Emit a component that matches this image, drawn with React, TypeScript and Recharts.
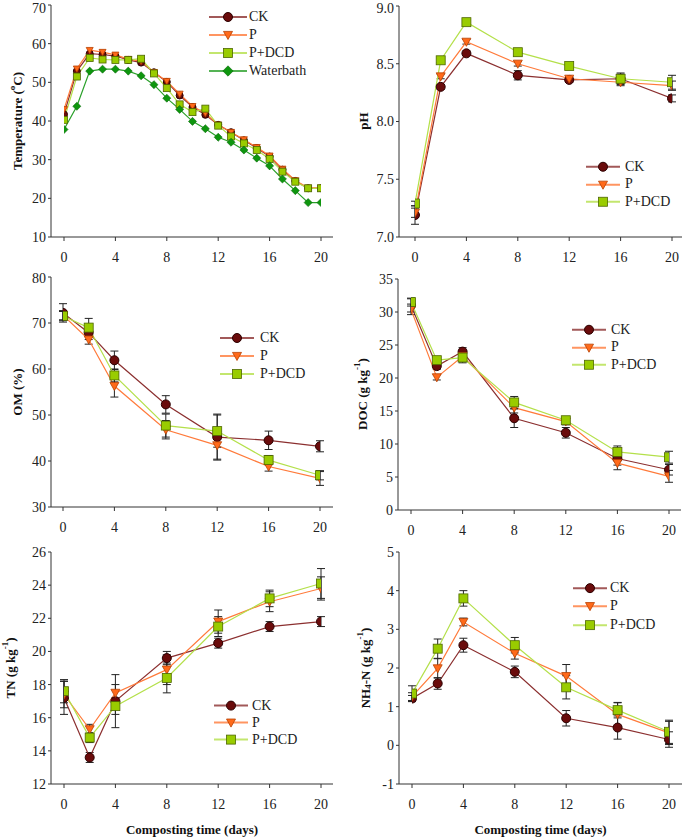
import React from 'react';
import { LineChart, Line, XAxis, YAxis, ErrorBar, Legend, Label } from 'recharts';

const FONT = '"Liberation Serif", "Times New Roman", serif';

// panel a: temperature, every day
const tempDays = [0, 1, 2, 3, 4, 5, 6, 7, 8, 9, 10, 11, 12, 13, 14, 15, 16, 17, 18, 19, 20];
const tempCK = [41.7, 52.9, 57.4, 57.2, 56.8, 55.8, 55.1, 52.6, 50.1, 46.6, 43.6, 41.6, 39.0, 37.1, 35.0, 33.0, 30.8, 27.4, 24.5, 22.6, 22.6];
const tempP = [43.0, 53.5, 58.3, 57.8, 57.1, 56.0, 55.5, 52.6, 50.3, 47.0, 43.8, 42.0, 39.0, 37.1, 35.2, 33.2, 31.0, 27.6, 24.6, 22.7, 22.7];
const tempPDCD = [40.3, 51.5, 56.3, 55.9, 55.8, 55.8, 56.1, 52.3, 48.5, 44.3, 42.3, 43.2, 38.8, 36.0, 34.2, 32.5, 30.2, 26.9, 24.3, 22.6, 22.6];
const tempWB = [37.8, 43.8, 52.9, 53.4, 53.4, 52.9, 51.7, 49.4, 45.9, 43.0, 39.9, 38.0, 35.8, 34.5, 32.5, 30.4, 28.4, 25.0, 22.0, 18.9, 18.9];

// panels b-f: sampling days
const days = [0, 2, 4, 8, 12, 16, 20];
const xTicks = [0, 4, 8, 12, 16, 20];

const phCK = [7.19, 8.30, 8.59, 8.40, 8.36, 8.37, 8.20];
const phP = [7.21, 8.39, 8.69, 8.50, 8.37, 8.34, 8.31];
const phPDCD = [7.29, 8.53, 8.86, 8.60, 8.48, 8.37, 8.34];
const phCKErr = [0.08, 0.02, 0.02, 0.04, 0.02, 0.05, 0.03];
const phPErr = [0.04, 0.02, 0.02, 0.02, 0.02, 0.03, 0.04];
const phPDCDErr = [0.02, 0.02, 0.02, 0.03, 0.02, 0.04, 0.06];

const omCK = [72.2, 67.9, 61.9, 52.3, 45.2, 44.5, 43.2];
const omP = [71.7, 66.4, 56.3, 46.8, 43.4, 38.8, 36.2];
const omPDCD = [71.5, 69.0, 58.6, 47.7, 46.5, 40.2, 36.9];
const omCKErr = [2.0, 1.5, 2.0, 1.9, 5.0, 2.0, 1.2];
const omPErr = [1.0, 1.0, 2.4, 2.0, 3.0, 1.0, 1.5];
const omPDCDErr = [1.0, 2.0, 1.4, 2.5, 3.5, 1.0, 1.0];

const docCK = [31.0, 21.8, 24.0, 13.9, 11.7, 7.8, 6.1];
const docP = [30.4, 20.1, 23.3, 15.5, 13.4, 7.1, 5.1];
const docPDCD = [31.5, 22.7, 23.1, 16.3, 13.6, 8.8, 8.0];
const docCKErr = [1.0, 0.5, 0.6, 1.4, 0.8, 1.0, 0.8];
const docPErr = [0.8, 0.4, 0.6, 0.8, 0.5, 1.0, 0.9];
const docPDCDErr = [0.6, 0.5, 0.8, 0.9, 0.4, 0.9, 0.9];

const tnCK = [17.2, 13.6, 17.0, 19.6, 20.5, 21.5, 21.8];
const tnP = [17.4, 15.3, 17.5, 18.9, 21.8, 23.0, 23.8];
const tnPDCD = [17.6, 14.8, 16.7, 18.4, 21.5, 23.2, 24.1];
const tnCKErr = [1.0, 0.3, 1.6, 0.4, 0.3, 0.3, 0.3];
const tnPErr = [0.8, 0.3, 0.5, 0.9, 0.7, 0.6, 0.7];
const tnPDCDErr = [0.7, 0.3, 0.5, 0.9, 0.6, 0.5, 0.9];

const nhCK = [1.21, 1.60, 2.59, 1.90, 0.70, 0.46, 0.15];
const nhP = [1.26, 1.99, 3.19, 2.38, 1.79, 0.80, 0.32];
const nhPDCD = [1.34, 2.50, 3.80, 2.59, 1.50, 0.91, 0.35];
const nhCKErr = [0.08, 0.15, 0.18, 0.15, 0.2, 0.3, 0.2];
const nhPErr = [0.1, 0.25, 0.1, 0.15, 0.3, 0.3, 0.3];
const nhPDCDErr = [0.2, 0.25, 0.2, 0.2, 0.3, 0.2, 0.3];

const SERIES: Record<string, { line: string; fill: string; stroke: string; shape: string }> = {
  CK: { line: '#8b2f2f', fill: '#6a0b0b', stroke: '#2b0000', shape: 'circle' },
  P: { line: '#ff7a3a', fill: '#ff6a1a', stroke: '#b84000', shape: 'tri' },
  'P+DCD': { line: '#b4e04a', fill: '#99cc00', stroke: '#4d6600', shape: 'square' },
  Waterbath: { line: '#2aa02a', fill: '#0e960e', stroke: '#0a6a0a', shape: 'diamond' },
};

const rows = (xs: number[], series: Record<string, number[]>, errs: Record<string, number[]> = {}) =>
  xs.map((d, i) => {
    const r: any = { d };
    Object.keys(series).forEach((k) => {
      r[k] = series[k][i];
      if (errs[k]) r[k + '_e'] = errs[k][i];
    });
    return r;
  });

const Marker = ({ shape, cx, cy, s, fill, stroke }: any) => {
  const h = s / 2;
  if (shape === 'circle') return <circle cx={cx} cy={cy} r={h} fill={fill} stroke={stroke} strokeWidth={1} />;
  if (shape === 'tri')
    return <polygon points={`${cx - h},${cy - h * 0.8} ${cx + h},${cy - h * 0.8} ${cx},${cy + h}`} fill={fill} stroke={stroke} strokeWidth={0.8} />;
  if (shape === 'square')
    return <rect x={cx - h} y={cy - h} width={s} height={s} fill={fill} stroke={stroke} strokeWidth={0.8} />;
  const d = h * 1.15;
  return <polygon points={`${cx},${cy - d} ${cx + d},${cy} ${cx},${cy + d} ${cx - d},${cy}`} fill={fill} stroke={stroke} strokeWidth={0.6} />;
};

type Part = { t: string; s?: 'sup' | 'sub' };

const RotTitle = ({ x, y, parts }: { x: number; y: number; parts: Part[] }) => {
  let shift = 0;
  return (
    <text
      x={x}
      y={y}
      transform={`rotate(-90 ${x} ${y})`}
      textAnchor="middle"
      dominantBaseline="central"
      fontFamily={FONT}
      fontWeight="bold"
      fontSize={13}
      fill="#111"
    >
      {parts.map((p, i) => {
        const target = p.s === 'sup' ? -5 : p.s === 'sub' ? 3 : 0;
        const dy = target - shift;
        shift = target;
        return (
          <tspan key={i} dy={dy} fontSize={p.s ? 9 : 13}>
            {p.t}
          </tspan>
        );
      })}
    </text>
  );
};

const LegendBox = ({ keys, lw, gap, rowH }: { keys: string[]; lw: number; gap: number; rowH: number }) => (
  <div>
    {keys.map((k) => {
      const st = SERIES[k];
      return (
        <div key={k} style={{ display: 'flex', alignItems: 'center', height: rowH }}>
          <svg width={lw} height={rowH} style={{ display: 'block' }}>
            <line x1={0} x2={lw} y1={rowH / 2} y2={rowH / 2} stroke={st.line} strokeWidth={2} strokeOpacity={0.8} />
            <Marker shape={st.shape} cx={lw / 2} cy={rowH / 2} s={9} fill={st.fill} stroke={st.stroke} />
          </svg>
          <span style={{ marginLeft: gap, fontFamily: FONT, fontSize: 14, color: '#222', lineHeight: 1, whiteSpace: 'nowrap' }}>{k}</span>
        </div>
      );
    })}
  </div>
);

const Panel = ({ c }: { c: any }) => {
  const { x, y, w, h, plot, data, keys, yDomain, yTicks, yFmt, pad, letter, legend, title, xTitle, ms, err } = c;
  return (
    <div style={{ position: 'absolute', left: x, top: y }}>
      <LineChart width={w} height={h} data={data} margin={{ top: plot.t - y, right: x + w - plot.r, bottom: 0, left: 0 }}>
        <XAxis
          dataKey="d"
          type="number"
          domain={[0, 20]}
          ticks={xTicks}
          padding={{ left: pad[0], right: pad[1] }}
          height={y + h - plot.b}
          tickSize={4}
          tickMargin={11}
          stroke="#333"
          tick={{ fill: '#222', fontSize: 14, fontFamily: FONT }}
          allowDataOverflow
        >
          {xTitle && (
            <Label
              value="Composting time (days)"
              position="insideBottom"
              offset={4}
              style={{ fontFamily: FONT, fontWeight: 'bold', fontSize: 13, fill: '#111' }}
            />
          )}
        </XAxis>
        <XAxis xAxisId="top" orientation="top" dataKey="d" type="number" domain={[0, 20]} height={0} tick={false} tickLine={false} stroke="#666">
          <Label
            content={() => (
              <text x={letter.x - x} y={letter.y - y} textAnchor="middle" fontFamily={FONT} fontWeight="bold" fontSize={22} fill="#111">
                {letter.t}
              </text>
            )}
          />
        </XAxis>
        <YAxis
          type="number"
          domain={yDomain}
          ticks={yTicks}
          width={plot.l - x}
          tickSize={3}
          tickMargin={2}
          stroke="#333"
          tickFormatter={yFmt}
          tick={{ fill: '#222', fontSize: 14, fontFamily: FONT }}
          allowDataOverflow
        >
          <Label content={() => <RotTitle x={title.x - x} y={title.y - y} parts={title.parts} />} />
        </YAxis>
        <YAxis yAxisId="r" orientation="right" width={0} domain={yDomain} tick={false} tickLine={false} stroke="#666" allowDataOverflow />
        <Legend
          layout="vertical"
          align="center"
          verticalAlign="middle"
          wrapperStyle={{ left: legend.x - x, top: legend.y - y, width: 'auto', height: 'auto' }}
          content={() => <LegendBox keys={keys} lw={legend.lw} gap={legend.gap} rowH={legend.rowH} />}
        />
        {keys.map((k: string) => {
          const st = SERIES[k];
          return (
            <Line
              key={k}
              dataKey={k}
              stroke={st.line}
              strokeWidth={1.2}
              isAnimationActive={false}
              dot={(p: any) => <Marker key={`${k}-${p.index}`} shape={st.shape} cx={p.cx} cy={p.cy} s={ms} fill={st.fill} stroke={st.stroke} />}
              activeDot={false}
            >
              {err && <ErrorBar dataKey={k + '_e'} width={4} stroke="#222" strokeWidth={1} />}
            </Line>
          );
        })}
      </LineChart>
    </div>
  );
};

const K3 = ['CK', 'P', 'P+DCD'];
const dgKg: Part[] = [{ t: ' (g kg' }, { t: '-1', s: 'sup' }, { t: ')' }];

const panels = [
  {
    x: 0, y: 0, w: 340, h: 270,
    plot: { l: 51, t: 5, r: 333, b: 237 },
    data: rows(tempDays, { CK: tempCK, P: tempP, 'P+DCD': tempPDCD, Waterbath: tempWB }),
    keys: ['CK', 'P', 'P+DCD', 'Waterbath'],
    yDomain: [10, 70], yTicks: [10, 20, 30, 40, 50, 60, 70], yFmt: (v: number) => String(v),
    pad: [13, 12], ms: 7, err: false,
    letter: { t: 'a', x: 168, y: 27 },
    legend: { x: 209, y: 8, lw: 38, gap: 2, rowH: 18 },
    title: { x: 17, y: 121, parts: [{ t: 'Temperature (' }, { t: 'o', s: 'sup' }, { t: 'C)' }] },
  },
  {
    x: 340, y: 0, w: 345, h: 270,
    plot: { l: 399, t: 6, r: 682, b: 237 },
    data: rows(days, { CK: phCK, P: phP, 'P+DCD': phPDCD }, { CK: phCKErr, P: phPErr, 'P+DCD': phPDCDErr }),
    keys: K3,
    yDomain: [7, 9], yTicks: [7, 7.5, 8, 8.5, 9], yFmt: (v: number) => v.toFixed(1),
    pad: [16, 10], ms: 9, err: true,
    letter: { t: 'b', x: 540, y: 33 },
    legend: { x: 586, y: 158, lw: 34, gap: 5, rowH: 17.5 },
    title: { x: 363, y: 121, parts: [{ t: 'pH' }] },
  },
  {
    x: 0, y: 270, w: 340, h: 270,
    plot: { l: 51, t: 277, r: 333, b: 507 },
    data: rows(days, { CK: omCK, P: omP, 'P+DCD': omPDCD }, { CK: omCKErr, P: omPErr, 'P+DCD': omPDCDErr }),
    keys: K3,
    yDomain: [30, 80], yTicks: [30, 40, 50, 60, 70, 80], yFmt: (v: number) => String(v),
    pad: [12, 13], ms: 9, err: true,
    letter: { t: 'c', x: 182, y: 304 },
    legend: { x: 220, y: 329, lw: 34, gap: 6, rowH: 18 },
    title: { x: 17, y: 392, parts: [{ t: 'OM (%)' }] },
  },
  {
    x: 340, y: 270, w: 345, h: 270,
    plot: { l: 398, t: 279, r: 681, b: 510 },
    data: rows(days, { CK: docCK, P: docP, 'P+DCD': docPDCD }, { CK: docCKErr, P: docPErr, 'P+DCD': docPDCDErr }),
    keys: K3,
    yDomain: [0, 35], yTicks: [0, 5, 10, 15, 20, 25, 30, 35], yFmt: (v: number) => String(v),
    pad: [13, 12], ms: 9, err: true,
    letter: { t: 'd', x: 542, y: 305 },
    legend: { x: 572, y: 321, lw: 34, gap: 5, rowH: 17.5 },
    title: { x: 362, y: 394, parts: [{ t: 'DOC' }, ...dgKg] },
  },
  {
    x: 0, y: 540, w: 340, h: 298,
    plot: { l: 51, t: 552, r: 333, b: 784 },
    data: rows(days, { CK: tnCK, P: tnP, 'P+DCD': tnPDCD }, { CK: tnCKErr, P: tnPErr, 'P+DCD': tnPDCDErr }),
    keys: K3,
    yDomain: [12, 26], yTicks: [12, 14, 16, 18, 20, 22, 24, 26], yFmt: (v: number) => String(v),
    pad: [13, 12], ms: 9, err: true, xTitle: true,
    letter: { t: 'e', x: 185, y: 578 },
    legend: { x: 214, y: 697, lw: 34, gap: 4, rowH: 17.2 },
    title: { x: 10, y: 668, parts: [{ t: 'TN' }, ...dgKg] },
  },
  {
    x: 340, y: 540, w: 345, h: 298,
    plot: { l: 399, t: 552, r: 682, b: 784 },
    data: rows(days, { CK: nhCK, P: nhP, 'P+DCD': nhPDCD }, { CK: nhCKErr, P: nhPErr, 'P+DCD': nhPDCDErr }),
    keys: K3,
    yDomain: [-1, 5], yTicks: [-1, 0, 1, 2, 3, 4, 5], yFmt: (v: number) => String(v),
    pad: [13, 13], ms: 9, err: true, xTitle: true,
    letter: { t: 'f', x: 545, y: 575 },
    legend: { x: 573, y: 579, lw: 34, gap: 3, rowH: 18.3 },
    title: { x: 365, y: 668, parts: [{ t: 'NH' }, { t: '4', s: 'sub' }, { t: '-N' }, ...dgKg] },
  },
];

export default function App() {
  return (
    <div style={{ position: 'absolute', left: 0, top: 0, width: 685, height: 838, background: '#fff', overflow: 'hidden' }}>
      {panels.map((c, i) => (
        <Panel key={i} c={c} />
      ))}
    </div>
  );
}
